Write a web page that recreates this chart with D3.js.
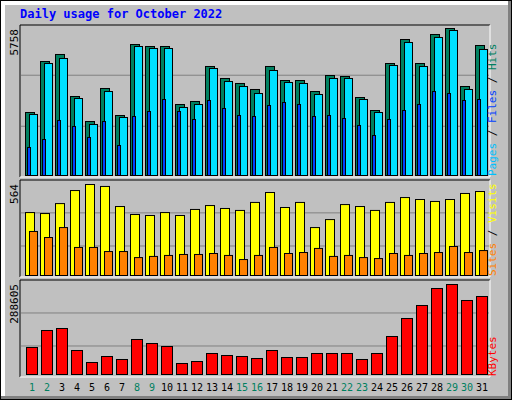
<!DOCTYPE html><html><head><meta charset="utf-8">
<script src="https://d3js.org/d3.v7.min.js"></script>
<style>body{margin:0;background:#fff}</style></head><body><svg id="c" width="512" height="400"></svg>
<script>
const days = d3.range(1,32).map(String);
const weekend = ["1","2","8","9","15","16","22","23","29","30"];
const hits = [2468,4465,4740,3094,2115,3408,2350,5131,5053,5053,2781,2899,4270,3800,3604,3369,4270,3721,3721,3290,3917,3878,3055,2546,4387,5327,4387,5523,5758,3486,5092];
const files = [2429,4426,4622,3055,2037,3329,2311,5092,5014,5014,2703,2820,4230,3721,3525,3251,4152,3682,3643,3212,3839,3839,3016,2507,4348,5249,4309,5445,5719,3408,4975];
const pages = [1136,1449,2194,1959,1528,2154,1214,2350,2546,3016,2546,2233,2977,2664,2389,2350,2781,2899,2820,2350,2389,2272,1998,1606,2233,2585,2820,3329,3251,2977,3016];
const visits = [392,386,447,527,564,552,429,380,374,392,374,411,435,417,405,454,515,423,454,300,349,441,429,405,454,484,472,460,472,509,521];
const sites = [276,239,300,178,178,153,153,116,123,129,135,135,141,129,104,129,178,141,147,172,123,129,116,110,141,129,141,147,184,147,159];
const kbytes = [88805,142722,149065,79290,41231,60260,50746,114178,101491,91976,38059,44402,69775,63432,60260,53917,79290,57089,57089,69775,69775,69775,50746,69775,123692,180781,222012,275929,288605,237870,250556];

const svg = d3.select("#c");
const mono = "'DejaVu Sans Mono', monospace";
// outer frame
svg.append("rect").attr("x",0).attr("y",0).attr("width",512).attr("height",400).attr("fill","#000");
svg.append("rect").attr("x",1).attr("y",1).attr("width",510).attr("height",398).attr("fill","#808080");
svg.append("rect").attr("x",1).attr("y",1).attr("width",507).attr("height",395).attr("fill","#fff");
svg.append("rect").attr("x",5).attr("y",5).attr("width",503).attr("height",391).attr("fill","#c0c0c0");
svg.append("text").attr("x",20).attr("y",18).attr("fill","#0000ff").attr("font-family",mono)
  .attr("font-weight","bold").attr("font-size",12).text("Daily usage for October 2022");

const x = d3.scaleBand().domain(days).range([22,487]).paddingInner(0).paddingOuter(0);
function panel(y0,y1){
  svg.append("rect").attr("x",20).attr("y",y0).attr("width",470).attr("height",y1-y0).attr("fill","#c0c0c0");
  svg.append("path").attr("d",`M20,${y1}V${y0}H490`).attr("stroke","#000").attr("fill","none");
  svg.append("path").attr("d",`M490,${y0}V${y1}H20`).attr("stroke","#fff").attr("fill","none");
}
function grid(y, vals){ vals.forEach(v=>svg.append("line").attr("x1",21).attr("x2",489).attr("y1",y(v)).attr("y2",y(v)).attr("stroke","#808080")); }
function bars(data,y,fill,dx,w,dy){
  svg.append("g").selectAll("rect").data(data).join("rect")
   .attr("x",(d,i)=>x(days[i])+dx+.5).attr("y",d=>y(d)-(dy||0)+.5).attr("width",w)
   .attr("height",d=>y(0)-y(d)+(dy||0)-1).attr("fill",fill).attr("stroke","#000");
}
function ylab(txt,yTop){
  svg.append("text").attr("transform",`translate(18,${yTop}) rotate(-90)`).attr("text-anchor","end")
   .attr("font-family",mono).attr("font-size",11).attr("fill","#000").text(txt);
}
function rlab(parts,yTop){
  const t=svg.append("text").attr("transform",`translate(496,${yTop}) rotate(90)`).attr("font-family",mono).attr("font-size",11).attr("text-anchor","end");
  parts.forEach(p=>t.append("tspan").attr("fill",p[1]).text(p[0]));
}
// panel 1
panel(25,177);
const y1 = d3.scaleLinear().domain([0,5758]).range([176,29]);
grid(y1,[1949,3947]);
bars(hits,y1,"#008060",3,9,1);
bars(files,y1,"#00e0ff",7,8,0);
bars(pages,y1,"#0040ff",5,3,0);
ylab("5758",29);
svg.append("text").attr("transform",`translate(496,176) rotate(-90)`).attr("font-family",mono).attr("font-size",11)
  .call(t=>{[["Pages","#00c0ff"],[" / ","#000"],["Files","#0040ff"],[" / ","#000"],["Hits","#008060"]].forEach(p=>t.append("tspan").attr("fill",p[1]).text(p[0]));});
// panel 2
panel(180,277);
const y2 = d3.scaleLinear().domain([0,564]).range([276,184]);
grid(y2,[184,387]);
bars(visits,y2,"#ffff00",3,9);
bars(sites,y2,"#ff8000",7,8);
ylab("564",184);
svg.append("text").attr("transform",`translate(496,276) rotate(-90)`).attr("font-family",mono).attr("font-size",11)
  .call(t=>{[["Sites","#ff8000"],[" / ","#000"],["Visits","#ffff00"]].forEach(p=>t.append("tspan").attr("fill",p[1]).text(p[0]));});
// panel 3
panel(280,377);
const y3 = d3.scaleLinear().domain([0,288605]).range([375,284]);
grid(y3,[91976,196695]);
bars(kbytes,y3,"#ff0000",4,11);
ylab("288605",284);
svg.append("text").attr("transform",`translate(496,376) rotate(-90)`).attr("font-family",mono).attr("font-size",11).attr("fill","#ff0000").text("KBytes");
// x labels
svg.append("g").selectAll("text").data(days).join("text")
 .attr("x",d=>x(d)+10).attr("y",391).attr("text-anchor","middle").attr("font-family",mono).attr("font-size",10)
 .attr("fill",d=>weekend.includes(d)?"#008060":"#000").text(d=>d);
</script></body></html>
